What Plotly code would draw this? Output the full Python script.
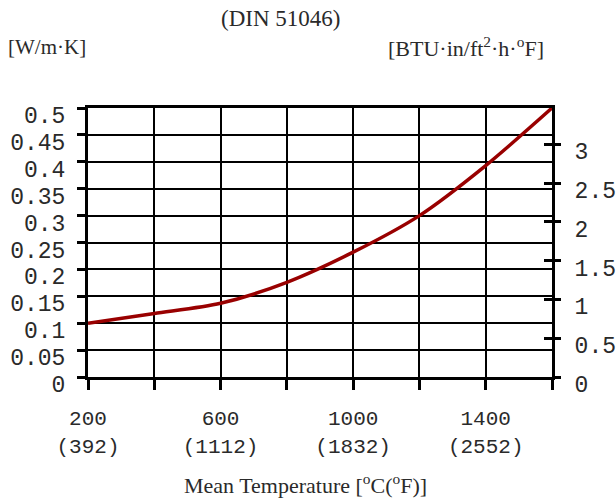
import plotly.graph_objects as go

# Mean temperature (°C) and thermal conductivity (W/m·K)
temp_c = [200, 400, 600, 800, 1000, 1200, 1400, 1600]
conductivity = [0.100, 0.118, 0.137, 0.176, 0.232, 0.300, 0.393, 0.500]

# Labelled temperature ticks (°C with °F underneath)
tick_c = [200, 400, 600, 800, 1000, 1200, 1400, 1600]
tick_text = ["200<br>(392)", "", "600<br>(1112)", "", "1000<br>(1832)", "",
             "1400<br>(2552)", ""]

# W/m·K -> BTU·in/(ft²·h·°F)
W_TO_BTU = 6.93347
y_max = 0.5

W, H = 616, 498
L, R, T, B = 88, 64, 108, 121
pw = W - L - R
ph = H - T - B

mono = "Liberation Mono"
serif = "Liberation Serif"
txt = "#2a2a2a"

fig = go.Figure()
fig.add_trace(go.Scatter(
    x=temp_c, y=conductivity, mode="lines",
    line=dict(color="#990000", width=3.5, shape="spline", smoothing=0.8),
    showlegend=False, hoverinfo="skip",
))

axis_common = dict(showline=True, linecolor="black", linewidth=3, mirror=True,
                   showgrid=True, gridcolor="black", gridwidth=2,
                   zeroline=False, fixedrange=True, automargin=False)

fig.update_layout(
    width=W, height=H, autosize=False,
    margin=dict(l=L, r=R, t=T, b=B, pad=0),
    paper_bgcolor="white", plot_bgcolor="white",
    xaxis=dict(range=[200, 1600], tickvals=tick_c, ticktext=tick_text,
               ticks="outside", ticklen=10, tickwidth=3, tickcolor="black",
               tickfont=dict(family=mono, size=21, color=txt),
               ticklabelstandoff=10,
               **axis_common),
    yaxis=dict(range=[0, y_max], dtick=0.05, tick0=0,
               ticks="outside", ticklen=8, tickwidth=3, tickcolor="black",
               tickfont=dict(family=mono, size=23, color=txt),
               ticklabelshift=7, ticklabelstandoff=7,
               **axis_common),
    yaxis2=dict(overlaying="y", side="right", range=[0, y_max * W_TO_BTU],
                dtick=0.5, tick0=0, showgrid=False, zeroline=False,
                showline=False, ticks="outside", ticklen=8, tickwidth=3,
                tickcolor="black", ticklabelshift=7, ticklabelstandoff=9,
                tickfont=dict(family=mono, size=23, color=txt),
                fixedrange=True, automargin=False),
    yaxis3=dict(overlaying="y", side="right", range=[0, y_max * W_TO_BTU],
                dtick=0.5, tick0=0, showgrid=False, zeroline=False,
                showline=False, ticks="inside", ticklen=8, tickwidth=3,
                tickcolor="black", showticklabels=False, fixedrange=True,
                automargin=False),
)

# invisible traces so the right-hand axes are drawn
fig.add_trace(go.Scatter(x=[200], y=[0], yaxis="y2", mode="markers",
                         marker=dict(opacity=0), showlegend=False,
                         hoverinfo="skip"))
fig.add_trace(go.Scatter(x=[200], y=[0], yaxis="y3", mode="markers",
                         marker=dict(opacity=0), showlegend=False,
                         hoverinfo="skip"))


def px_x(x):
    return (x - L) / pw


def px_y(y):
    return (H - B - y) / ph


notes = [
    ("(DIN 51046)", 280, 18, 23),
    ("[W/m·K]", 47, 47, 21),
    ("[BTU·in/ft<sup>2</sup>·h·<sup>o</sup>F]", 466, 47, 22),
    ("Mean Temperature [<sup>o</sup>C(<sup>o</sup>F)]", 305, 484, 22),
]
for text, x, y, size in notes:
    fig.add_annotation(text=text, x=px_x(x), y=px_y(y), xref="paper",
                       yref="paper", showarrow=False, xanchor="center",
                       yanchor="middle",
                       font=dict(family=serif, size=size, color=txt))

fig.write_html("out.html")
